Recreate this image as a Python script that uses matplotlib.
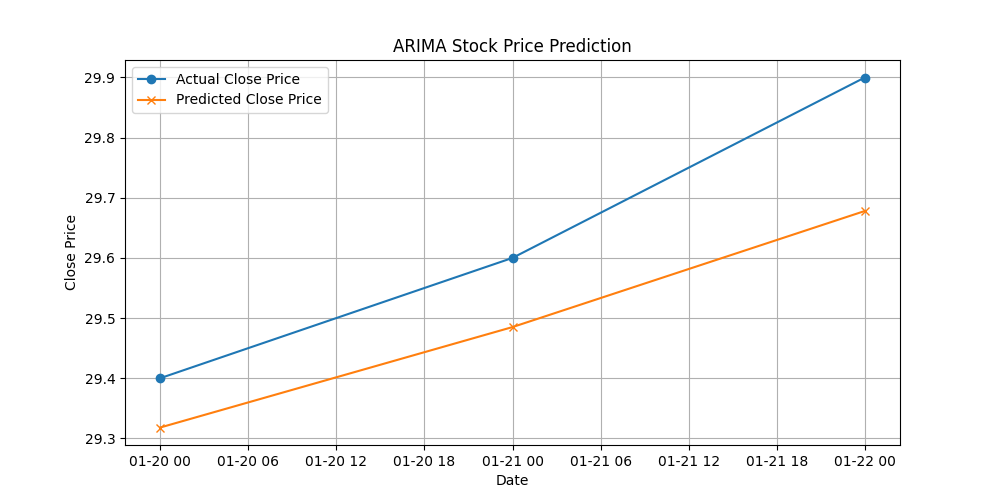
import numpy as np
import pandas as pd
import matplotlib
matplotlib.use("Agg")
import matplotlib.pyplot as plt

dates = pd.to_datetime(["2024-01-20", "2024-01-21", "2024-01-22"])
actual_close = [29.4, 29.6, 29.9]
predicted_close = [29.318, 29.485, 29.678]

plt.figure(figsize=(10, 5))
plt.plot(dates, actual_close, marker='o', label='Actual Close Price')
plt.plot(dates, predicted_close, marker='x', label='Predicted Close Price')
plt.title('ARIMA Stock Price Prediction')
plt.xlabel('Date')
plt.ylabel('Close Price')
plt.legend()
plt.grid(True)
plt.savefig('out.png', dpi=100)
